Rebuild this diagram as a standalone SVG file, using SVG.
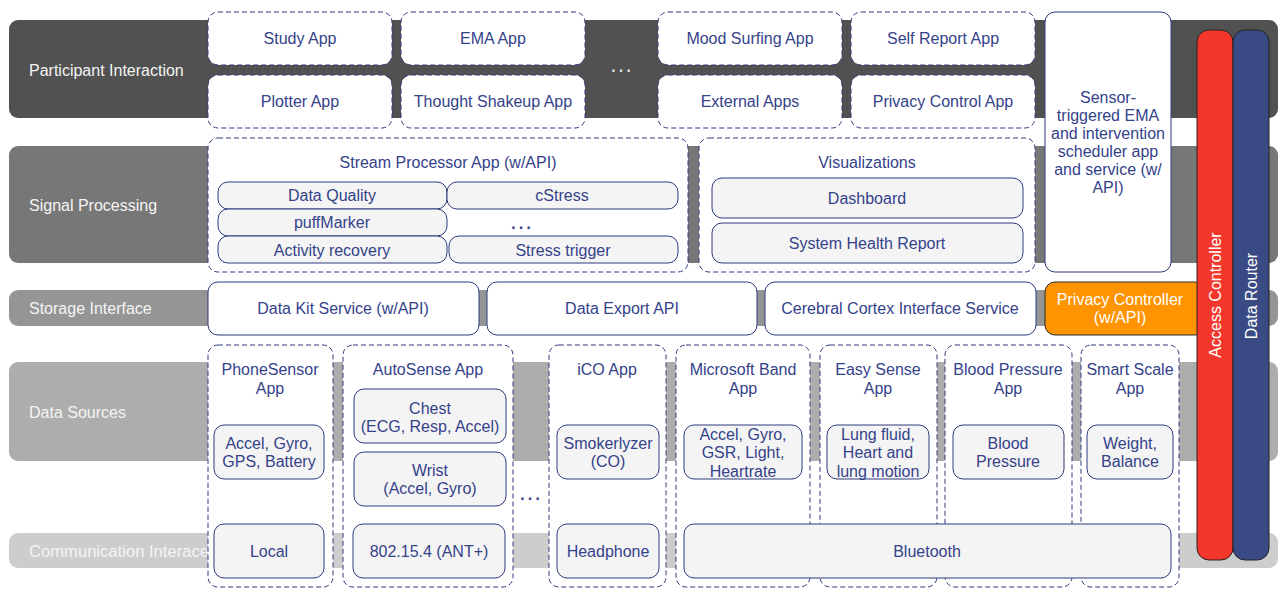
<svg xmlns="http://www.w3.org/2000/svg" width="1287" height="598" viewBox="0 0 1287 598">
<style>
text{font-family:"Liberation Sans",Arial,sans-serif;font-size:16px;}
.bl{fill:#f4f4f4;}
.t{fill:#34428a;text-anchor:middle;}
.w{fill:#ffffff;text-anchor:middle;}
.dash{fill:#ffffff;stroke:#2e3b7c;stroke-width:1;stroke-dasharray:5 3;}
.solid{fill:#ffffff;stroke:#2e3b7c;stroke-width:1;}
.sub{fill:#f4f4f4;stroke:#2e3b7c;stroke-width:1;}
.dots{font-size:24px;text-anchor:middle;}
</style>
<g id="bands">
<rect x="9" y="20" width="1269" height="98" rx="9" fill="#515151"/>
<rect x="9" y="146" width="1269" height="117" rx="9" fill="#777777"/>
<rect x="9" y="290" width="1269" height="36" rx="9" fill="#959595"/>
<rect x="9" y="362" width="1269" height="99" rx="9" fill="#adadad"/>
<rect x="9" y="533" width="1269" height="35" rx="9" fill="#cdcdcd"/>
<text class="bl" x="29" y="76">Participant Interaction</text>
<text class="bl" x="29" y="211">Signal Processing</text>
<text class="bl" x="29" y="314">Storage Interface</text>
<text class="bl" x="29" y="418">Data Sources</text>
<text class="bl" x="29" y="557" textLength="180" lengthAdjust="spacingAndGlyphs">Communication Interace</text>
</g>
<g id="connectors"></g>
<g id="study-app"><rect class="dash" x="208" y="12" width="184" height="53" rx="10"/><text class="t" x="300" y="44">Study App</text></g>
<g id="plotter-app"><rect class="dash" x="208" y="75" width="184" height="53" rx="10"/><text class="t" x="300" y="107">Plotter App</text></g>
<g id="ema-app"><rect class="dash" x="401" y="12" width="184" height="53" rx="10"/><text class="t" x="493" y="44">EMA App</text></g>
<g id="thought-app"><rect class="dash" x="401" y="75" width="184" height="53" rx="10"/><text class="t" x="493" y="107">Thought Shakeup App</text></g>
<g id="top-dots"><text class="dots" x="621" y="72" fill="#e0e0e0">…</text></g>
<g id="mood-app"><rect class="dash" x="658" y="12" width="184" height="53" rx="10"/><text class="t" x="750" y="44">Mood Surfing App</text></g>
<g id="external-apps"><rect class="dash" x="658" y="75" width="184" height="53" rx="10"/><text class="t" x="750" y="107">External Apps</text></g>
<g id="self-report-app"><rect class="dash" x="851" y="12" width="184" height="53" rx="10"/><text class="t" x="943" y="44">Self Report App</text></g>
<g id="privacy-control-app"><rect class="dash" x="851" y="75" width="184" height="53" rx="10"/><text class="t" x="943" y="107">Privacy Control App</text></g>
<g id="ema-scheduler"><rect class="solid" x="1045" y="12" width="126" height="260" rx="10"/>
<text class="t" x="1108" y="103">Sensor-</text>
<text class="t" x="1108" y="121">triggered EMA</text>
<text class="t" x="1108" y="139">and intervention</text>
<text class="t" x="1108" y="157">scheduler app</text>
<text class="t" x="1108" y="175">and service (w/</text>
<text class="t" x="1108" y="193">API)</text></g>
<g id="stream-processor"><rect class="dash" x="208" y="138" width="480" height="134" rx="10"/>
<text class="t" x="448" y="168">Stream Processor App (w/API)</text>
<g id="data-quality"><rect class="sub" x="218" y="182" width="229" height="27" rx="10"/><text class="t" x="332" y="201">Data Quality</text></g>
<g id="cstress"><rect class="sub" x="447" y="182" width="231" height="27" rx="10"/><text class="t" x="562" y="201">cStress</text></g>
<g id="puffmarker"><rect class="sub" x="218" y="209" width="229" height="27" rx="10"/><text class="t" x="332" y="228">puffMarker</text></g>
<text class="dots" x="521" y="229" fill="#34428a">…</text>
<g id="activity-recovery"><rect class="sub" x="218" y="236" width="229" height="27" rx="10"/><text class="t" x="332" y="256">Activity recovery</text></g>
<g id="stress-trigger"><rect class="sub" x="449" y="236" width="229" height="27" rx="10"/><text class="t" x="563" y="256">Stress trigger</text></g>
</g>
<g id="visualizations"><rect class="dash" x="699" y="138" width="336" height="134" rx="10"/>
<text class="t" x="867" y="168">Visualizations</text>
<g id="dashboard"><rect class="sub" x="712" y="178" width="311" height="40" rx="10"/><text class="t" x="867" y="204">Dashboard</text></g>
<g id="system-health"><rect class="sub" x="712" y="223" width="311" height="40" rx="10"/><text class="t" x="867" y="249">System Health Report</text></g>
</g>
<g id="data-kit"><rect class="solid" x="208" y="282" width="271" height="53" rx="10"/><text class="t" x="343" y="314">Data Kit Service (w/API)</text></g>
<g id="data-export"><rect class="solid" x="487" y="282" width="270" height="53" rx="10"/><text class="t" x="622" y="314">Data Export API</text></g>
<g id="cerebral-cortex"><rect class="solid" x="765" y="282" width="271" height="53" rx="10"/><text class="t" x="900" y="314">Cerebral Cortex Interface Service</text></g>
<g id="privacy-controller"><rect x="1045" y="282" width="160" height="53" rx="10" fill="#ff9300" stroke="#2a2a2a" stroke-width="1"/>
<text class="w" x="1120" y="305">Privacy Controller</text><text class="w" x="1120" y="323">(w/API)</text></g>
<g id="phonesensor-app"><rect class="dash" x="208" y="345" width="125" height="242" rx="10"/>
<text class="t" x="270" y="375">PhoneSensor</text><text class="t" x="270" y="394">App</text>
<g id="phone-sensors"><rect class="sub" x="214" y="425" width="110" height="54" rx="10"/><text class="t" x="269" y="449">Accel, Gyro,</text><text class="t" x="269" y="467">GPS, Battery</text></g>
<g id="local"><rect class="sub" x="214" y="524" width="110" height="54" rx="10"/><text class="t" x="269" y="557">Local</text></g>
</g>
<g id="autosense-app"><rect class="dash" x="343" y="345" width="170" height="242" rx="10"/>
<text class="t" x="428" y="375">AutoSense App</text>
<g id="chest"><rect class="sub" x="354" y="389" width="152" height="54" rx="10"/><text class="t" x="430" y="414">Chest</text><text class="t" x="430" y="432">(ECG, Resp, Accel)</text></g>
<g id="wrist"><rect class="sub" x="354" y="452" width="152" height="54" rx="10"/><text class="t" x="430" y="476">Wrist</text><text class="t" x="430" y="494">(Accel, Gyro)</text></g>
<g id="ant"><rect class="sub" x="353" y="524" width="152" height="54" rx="10"/><text class="t" x="429" y="557">802.15.4 (ANT+)</text></g>
</g>
<g id="source-dots"><text class="dots" x="530" y="500" fill="#34428a">…</text></g>
<g id="ico-app"><rect class="dash" x="549" y="345" width="117" height="242" rx="10"/>
<text class="t" x="607" y="375">iCO App</text>
<g id="smokerlyzer"><rect class="sub" x="557" y="425" width="102" height="54" rx="10"/><text class="t" x="608" y="449">Smokerlyzer</text><text class="t" x="608" y="467">(CO)</text></g>
<g id="headphone"><rect class="sub" x="557" y="524" width="102" height="54" rx="10"/><text class="t" x="608" y="557">Headphone</text></g>
</g>
<g id="msband-app"><rect class="dash" x="676" y="345" width="134" height="242" rx="10"/>
<text class="t" x="743" y="375">Microsoft Band</text><text class="t" x="743" y="394">App</text>
<g id="msband-sensors"><rect class="sub" x="684" y="425" width="118" height="54" rx="10"/><text class="t" x="743" y="440">Accel, Gyro,</text><text class="t" x="743" y="458">GSR, Light,</text><text class="t" x="743" y="477">Heartrate</text></g>
</g>
<g id="easysense-app"><rect class="dash" x="820" y="345" width="117" height="242" rx="10"/>
<text class="t" x="878" y="375">Easy Sense</text><text class="t" x="878" y="394">App</text>
<g id="easysense-sensors"><rect class="sub" x="827" y="425" width="102" height="54" rx="10"/><text class="t" x="878" y="440">Lung fluid,</text><text class="t" x="878" y="458">Heart and</text><text class="t" x="878" y="477">lung motion</text></g>
</g>
<g id="bp-app"><rect class="dash" x="945" y="345" width="127" height="242" rx="10"/>
<text class="t" x="1008" y="375">Blood Pressure</text><text class="t" x="1008" y="394">App</text>
<g id="bp-sensors"><rect class="sub" x="953" y="425" width="111" height="54" rx="10"/><text class="t" x="1008" y="449">Blood</text><text class="t" x="1008" y="467">Pressure</text></g>
</g>
<g id="scale-app"><rect class="dash" x="1081" y="345" width="98" height="242" rx="10"/>
<text class="t" x="1130" y="375">Smart Scale</text><text class="t" x="1130" y="394">App</text>
<g id="scale-sensors"><rect class="sub" x="1087" y="425" width="86" height="54" rx="10"/><text class="t" x="1130" y="449">Weight,</text><text class="t" x="1130" y="467">Balance</text></g>
</g>
<g id="bluetooth"><rect class="sub" x="684" y="524" width="487" height="54" rx="10"/><text class="t" x="927" y="557">Bluetooth</text></g>
<g id="access-controller"><rect x="1197" y="30" width="36" height="530" rx="12" fill="#f4372a" stroke="#222222" stroke-width="1"/>
<text class="w" transform="translate(1221 295) rotate(-90)">Access Controller</text></g>
<g id="data-router"><rect x="1233" y="30" width="36" height="530" rx="12" fill="#3a4a85" stroke="#222222" stroke-width="1"/>
<text class="w" transform="translate(1257 296) rotate(-90)">Data Router</text></g>
</svg>
